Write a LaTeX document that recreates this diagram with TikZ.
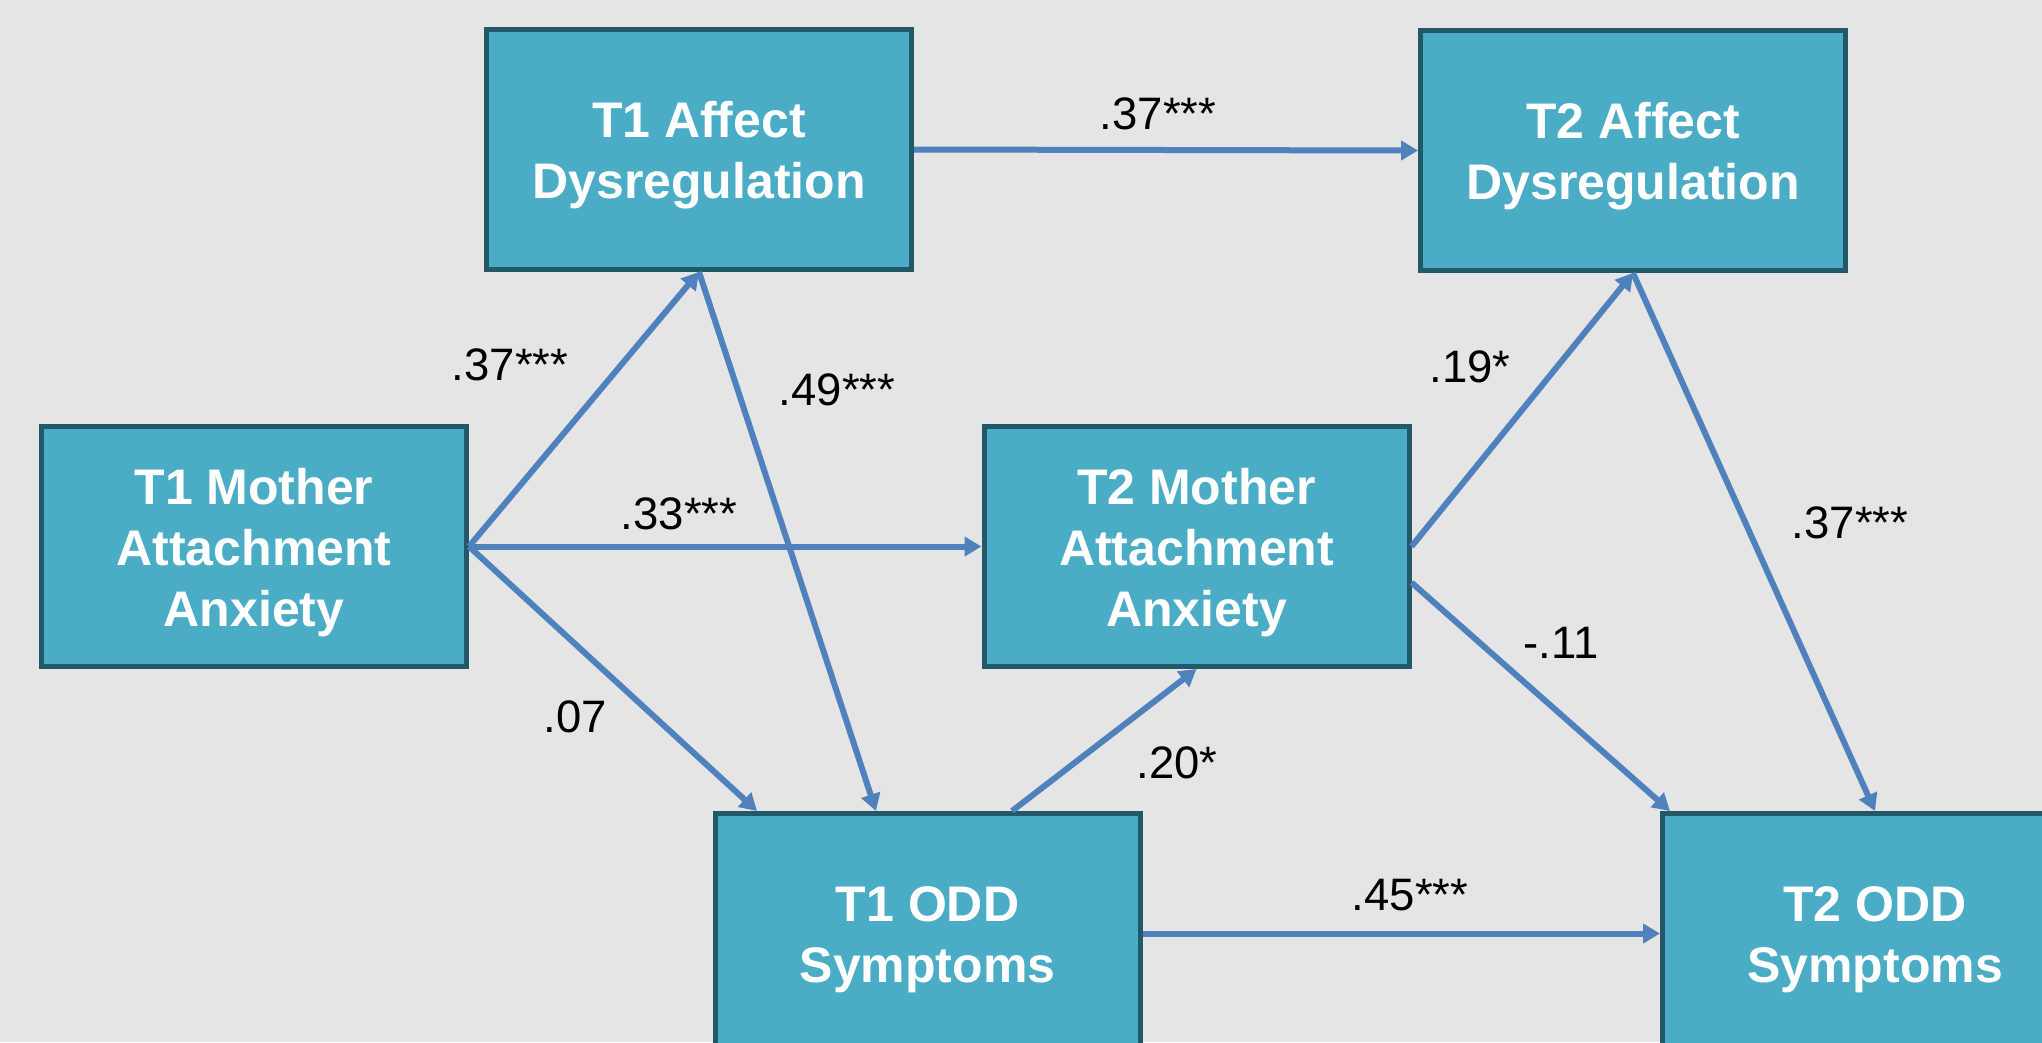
\documentclass[tikz,border=0pt]{standalone}
\usepackage{fontspec}
\setmainfont{Liberation Sans}
\usetikzlibrary{arrows.meta}
\definecolor{bgc}{HTML}{E5E5E5}
\definecolor{boxfill}{HTML}{4BACC6}
\definecolor{boxline}{HTML}{215968}
\definecolor{arr}{HTML}{4F81BD}
\begin{document}
\begin{tikzpicture}[x=1pt,y=-1pt,
  varbox/.style={draw=boxline, fill=boxfill, line width=5pt, minimum width=425pt, minimum height=240pt, inner sep=0pt},
  vartext/.style={text=white, font=\fontsize{50}{61}\selectfont\bfseries, align=center, inner sep=0pt, yshift=-6pt},
  conn/.style={draw=arr, line width=6pt, -{Triangle[length=17pt,width=19pt]}},
  coef/.style={font=\fontsize{45.5}{50}\selectfont, text=black, inner sep=0pt, anchor=base}]
\fill[bgc] (0,0) rectangle (2042,1042);
\useasboundingbox (0,0) rectangle (2042,1042);
\clip (0,0) rectangle (2042,1042);

% boxes
\node[varbox] (m1) at (254,546.5) {};
\node[varbox] (a1) at (699,149.5) {};
\node[varbox] (m2) at (1196.5,546.5) {};
\node[varbox] (a2) at (1633,150.5) {};
\node[varbox] (o1) at (927.5,933.5) {};
\node[varbox] (o2) at (1875,933.5) {};

\node[vartext] (m1t) at (m1.center) {T1 Mother\\Attachment\\Anxiety};
\node[vartext] (a1t) at (a1.center) {T1 Affect\\Dysregulation};
\node[vartext] (m2t) at (m2.center) {T2 Mother\\Attachment\\Anxiety};
\node[vartext] (a2t) at (a2.center) {T2 Affect\\Dysregulation};
\node[vartext] (o1t) at (o1.center) {T1 ODD\\Symptoms};
\node[vartext] (o2t) at (o2.center) {T2 ODD\\Symptoms};

% anchor points on box edges
\coordinate (o1a) at ([xshift=-170.5pt]o1.north);
\coordinate (o1b) at ([xshift=-51.5pt]o1.north);
\coordinate (o1c) at ([xshift=84.5pt]o1.north);
\coordinate (o2a) at ([xshift=-205pt]o2.north);
\coordinate (m2b) at ([yshift=-36pt]m2.east);

% connectors
\draw[conn] (m1.east) -- (a1.south);
\draw[conn] (m1.east) -- (m2.west);
\draw[conn] (m1.east) -- (o1a);
\draw[conn] (a1.south) -- (o1b);
\draw[conn] (a1.east) -- (a2.west);
\draw[conn] (o1c) -- (m2.south);
\draw[conn] (m2.east) -- (a2.south);
\draw[conn] (m2b) -- (o2a);
\draw[conn] (a2.south) -- (o2.north);
\draw[conn] (o1.east) -- (o2.west);

% coefficients
\node[coef] (c1) at (510,380) {.37***};
\node[coef] (c2) at (679,529) {.33***};
\node[coef] (c3) at (575,732) {.07};
\node[coef] (c4) at (837,405) {.49***};
\node[coef] (c5) at (1158,129) {.37***};
\node[coef] (c6) at (1177,778) {.20*};
\node[coef] (c7) at (1470,382) {.19*};
\node[coef] (c8) at (1561,658) {-.11};
\node[coef] (c9) at (1850,538) {.37***};
\node[coef] (c10) at (1410,910) {.45***};
\end{tikzpicture}
\end{document}
